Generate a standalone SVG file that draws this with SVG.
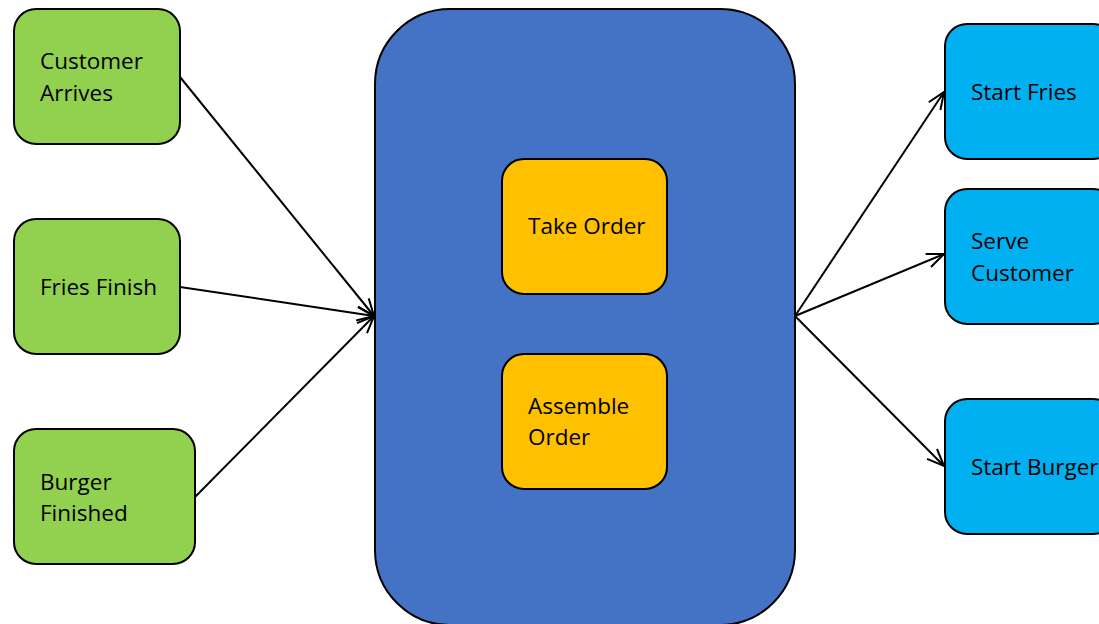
<svg xmlns="http://www.w3.org/2000/svg" width="1099" height="624" viewBox="0 0 1099 624">
<defs>
<style>
.n{stroke:#000;stroke-width:2}
.g{fill:#92D050}.b{fill:#4472C4}.o{fill:#FFC000}.c{fill:#00B0F0}
text{font-family:"Open Sans","Noto Sans","Liberation Sans",sans-serif;font-size:22.5px;fill:#000}
.e{stroke:#000;stroke-width:2;fill:none;marker-end:url(#a)}
</style>
<marker id="a" viewBox="0 0 20 20" refX="19" refY="10" markerWidth="20" markerHeight="20" markerUnits="userSpaceOnUse" orient="auto">
<path d="M2,3 L19,10 L2,17" fill="none" stroke="#000" stroke-width="2"/>
</marker>
</defs>
<rect width="1099" height="624" fill="#fff"/>
<g id="main"><rect class="n b" x="375" y="9" width="420" height="616" rx="75"/></g>
<g id="customer-arrives"><rect class="n g" x="14" y="9" width="166" height="135" rx="22"/><text x="40" y="69">Customer</text><text x="40" y="101">Arrives</text></g>
<g id="fries-finish"><rect class="n g" x="14" y="219" width="166" height="135" rx="22"/><text x="40" y="295">Fries Finish</text></g>
<g id="burger-finished"><rect class="n g" x="14" y="429" width="181" height="135" rx="22"/><text x="40" y="490">Burger</text><text x="40" y="521">Finished</text></g>
<g id="take-order"><rect class="n o" x="502" y="159" width="165" height="135" rx="22"/><text x="528" y="234">Take Order</text></g>
<g id="assemble-order"><rect class="n o" x="502" y="354" width="165" height="135" rx="22"/><text x="528" y="414">Assemble</text><text x="528" y="445">Order</text></g>
<g id="start-fries"><rect class="n c" x="945" y="24" width="170" height="135" rx="22"/><text x="971" y="100">Start Fries</text></g>
<g id="serve-customer"><rect class="n c" x="945" y="189" width="170" height="135" rx="22"/><text x="971" y="249">Serve</text><text x="971" y="281">Customer</text></g>
<g id="start-burger"><rect class="n c" x="945" y="399" width="170" height="135" rx="22"/><text x="971" y="475">Start Burger</text></g>
<g id="connectors">
<line class="e" x1="180" y1="77" x2="374" y2="316"/>
<line class="e" x1="180" y1="287" x2="374" y2="316"/>
<line class="e" x1="195" y1="497" x2="374" y2="316"/>
<line class="e" x1="795" y1="316" x2="944" y2="92"/>
<line class="e" x1="795" y1="316" x2="944" y2="254"/>
<line class="e" x1="795" y1="316" x2="944" y2="466"/>
</g>
</svg>
